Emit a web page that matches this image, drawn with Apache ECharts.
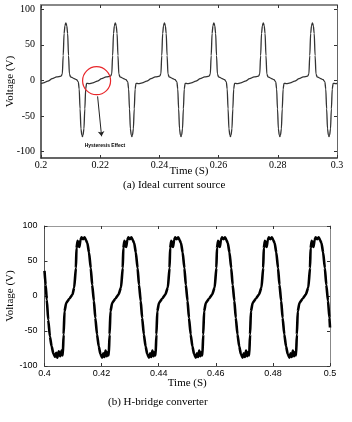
<!DOCTYPE html>
<html>
<head>
<meta charset="utf-8">
<script src="https://cdn.jsdelivr.net/npm/echarts@6/dist/echarts.min.js"></script>
<style>html,body{margin:0;padding:0;background:#fff;}#chart{width:352px;height:422px;}</style>
</head>
<body>
<div id="chart"></div>
<script>
// ---------- data ----------
const topXTicks = [0.2, 0.22, 0.24, 0.26, 0.28, 0.3];
const topYTicks = [-100, -50, 0, 50, 100];
const bottomXTicks = [0.4, 0.42, 0.44, 0.46, 0.48, 0.5];
const bottomYTicks = [-100, -50, 0, 50, 100];

// (a) Ideal current source: [time (s), voltage (V)]
const idealCurrentSource = [
[0.2000,-4.3],[0.2008,-3.5],[0.2023,-1],[0.2038,2.5],
[0.2053,5],[0.2068,6],[0.2072,9],[0.2075,35],[0.2078,66],[0.2081,77],[0.2084,81],[0.2087,77],[0.2090,66],[0.2093,35],[0.2096,9],[0.2100,5],[0.2110,3],[0.2120,1],[0.2126,-2],[0.2129,-12],[0.2132,-40],[0.2135,-68],[0.2138,-77],[0.2140,-79],[0.2142,-77],[0.2145,-68],[0.2148,-40],[0.2151,-12],[0.2154,-4],[0.2162,-4.5],[0.2175,-3.5],[0.2190,-1],[0.2205,2.5],
[0.2220,5],[0.2235,6],[0.2239,9],[0.2242,35],[0.2245,66],[0.2248,77],[0.2251,81],[0.2254,77],[0.2257,66],[0.2260,35],[0.2263,9],[0.2267,5],[0.2277,3],[0.2287,1],[0.2293,-2],[0.2296,-12],[0.2299,-40],[0.2302,-68],[0.2305,-77],[0.2307,-79],[0.2309,-77],[0.2312,-68],[0.2315,-40],[0.2318,-12],[0.2321,-4],[0.2329,-4.5],[0.2342,-3.5],[0.2357,-1],[0.2372,2.5],
[0.2386,5],[0.2401,6],[0.2405,9],[0.2408,35],[0.2411,66],[0.2414,77],[0.2417,81],[0.2420,77],[0.2423,66],[0.2426,35],[0.2429,9],[0.2433,5],[0.2443,3],[0.2453,1],[0.2459,-2],[0.2462,-12],[0.2465,-40],[0.2468,-68],[0.2471,-77],[0.2473,-79],[0.2475,-77],[0.2478,-68],[0.2481,-40],[0.2484,-12],[0.2487,-4],[0.2495,-4.5],[0.2508,-3.5],[0.2523,-1],[0.2538,2.5],
[0.2553,5],[0.2568,6],[0.2572,9],[0.2575,35],[0.2578,66],[0.2581,77],[0.2584,81],[0.2587,77],[0.2590,66],[0.2593,35],[0.2596,9],[0.2600,5],[0.2610,3],[0.2620,1],[0.2626,-2],[0.2629,-12],[0.2632,-40],[0.2635,-68],[0.2638,-77],[0.2640,-79],[0.2642,-77],[0.2645,-68],[0.2648,-40],[0.2651,-12],[0.2654,-4],[0.2662,-4.5],[0.2675,-3.5],[0.2690,-1],[0.2705,2.5],
[0.2720,5],[0.2735,6],[0.2739,9],[0.2742,35],[0.2745,66],[0.2748,77],[0.2751,81],[0.2754,77],[0.2757,66],[0.2760,35],[0.2763,9],[0.2767,5],[0.2777,3],[0.2787,1],[0.2793,-2],[0.2796,-12],[0.2799,-40],[0.2802,-68],[0.2805,-77],[0.2807,-79],[0.2809,-77],[0.2812,-68],[0.2815,-40],[0.2818,-12],[0.2821,-4],[0.2829,-4.5],[0.2842,-3.5],[0.2857,-1],[0.2872,2.5],
[0.2886,5],[0.2901,6],[0.2905,9],[0.2908,35],[0.2911,66],[0.2914,77],[0.2917,81],[0.2920,77],[0.2923,66],[0.2926,35],[0.2929,9],[0.2933,5],[0.2943,3],[0.2953,1],[0.2959,-2],[0.2962,-12],[0.2965,-40],[0.2968,-68],[0.2971,-77],[0.2973,-79],[0.2975,-77],[0.2978,-68],[0.2981,-40],[0.2984,-12],[0.2987,-4],[0.2995,-4.5],[0.3000,-4.3]
];

// (b) H-bridge converter: [time (s), voltage (V)]
const hBridgeConverter = [
[0.4000,36],[0.4004,16],[0.4008,-5],[0.4013,-34],[0.4019,-58],[0.4025,-72],[0.4031,-82],[0.4037,-87],[0.4041,-81],[0.4045,-88],[0.4050,-79],[0.4055,-86],[0.4060,-78],[0.4064,-85],[0.4067,-55],[0.4070,-22],[0.4076,-10],[0.4087,-4],[0.4098,2],[0.4104,12],
[0.4110,40],[0.4112,68],[0.4116,79],[0.4119,74],[0.4122,70],[0.4126,80],[0.4130,84],[0.4135,81],[0.4140,84],[0.4145,80],[0.4150,76],[0.4156,62],[0.4162,40],[0.4167,16],[0.4173,-7],[0.4178,-31],[0.4184,-55],[0.4190,-72],[0.4196,-83],[0.4202,-88],[0.4206,-82],[0.4210,-87],[0.4214,-78],[0.4218,-86],[0.4222,-80],[0.4225,-85],[0.4228,-55],[0.4231,-22],[0.4237,-10],[0.4248,-4],[0.4259,2],[0.4268,12],
[0.4274,40],[0.4276,68],[0.4280,79],[0.4283,74],[0.4286,70],[0.4290,80],[0.4294,84],[0.4299,81],[0.4304,84],[0.4309,80],[0.4314,76],[0.4320,62],[0.4326,40],[0.4331,16],[0.4337,-7],[0.4342,-31],[0.4348,-55],[0.4354,-72],[0.4360,-83],[0.4366,-88],[0.4370,-82],[0.4374,-87],[0.4378,-78],[0.4382,-86],[0.4386,-80],[0.4389,-85],[0.4392,-55],[0.4395,-22],[0.4401,-10],[0.4412,-4],[0.4423,2],[0.4432,12],
[0.4438,40],[0.4440,68],[0.4444,79],[0.4447,74],[0.4450,70],[0.4454,80],[0.4458,84],[0.4463,81],[0.4468,84],[0.4473,80],[0.4478,76],[0.4484,62],[0.4490,40],[0.4495,16],[0.4501,-7],[0.4506,-31],[0.4512,-55],[0.4518,-72],[0.4524,-83],[0.4530,-88],[0.4534,-82],[0.4538,-87],[0.4542,-78],[0.4546,-86],[0.4550,-80],[0.4553,-85],[0.4556,-55],[0.4559,-22],[0.4565,-10],[0.4576,-4],[0.4587,2],[0.4596,12],
[0.4602,40],[0.4604,68],[0.4608,79],[0.4611,74],[0.4614,70],[0.4618,80],[0.4622,84],[0.4627,81],[0.4632,84],[0.4637,80],[0.4642,76],[0.4648,62],[0.4654,40],[0.4659,16],[0.4665,-7],[0.4670,-31],[0.4676,-55],[0.4682,-72],[0.4688,-83],[0.4694,-88],[0.4698,-82],[0.4702,-87],[0.4706,-78],[0.4710,-86],[0.4714,-80],[0.4717,-85],[0.4720,-55],[0.4723,-22],[0.4729,-10],[0.4740,-4],[0.4751,2],[0.4760,12],
[0.4766,40],[0.4768,68],[0.4772,79],[0.4775,74],[0.4778,70],[0.4782,80],[0.4786,84],[0.4791,81],[0.4796,84],[0.4801,80],[0.4806,76],[0.4812,62],[0.4818,40],[0.4823,16],[0.4829,-7],[0.4834,-31],[0.4840,-55],[0.4846,-72],[0.4852,-83],[0.4858,-88],[0.4862,-82],[0.4866,-87],[0.4870,-78],[0.4874,-86],[0.4878,-80],[0.4881,-85],[0.4884,-55],[0.4887,-22],[0.4893,-10],[0.4904,-4],[0.4915,2],[0.4924,12],
[0.4930,40],[0.4932,68],[0.4936,79],[0.4939,74],[0.4942,70],[0.4946,80],[0.4950,84],[0.4955,81],[0.4960,84],[0.4965,80],[0.4970,76],[0.4976,62],[0.4982,40],[0.4987,16],[0.4993,-7],[0.4998,-31],[0.5000,-45]
];

// annotation: hysteresis circle centre, arrow start/end, label position (data coords)
const hysteresisCircle = [0.21878, -0.4];
const hysteresisArrow = [[0.21912, -22.4], [0.22047, -78.5]];
const hysteresisLabel = [0.2216, -91.5];
const hysteresisText = 'Hysteresis Effect';

// ---------- chart ----------
const chart = echarts.init(document.getElementById('chart'), null, {renderer: 'canvas'});
const serif = 'Liberation Serif';
const sans = 'Liberation Sans';
const fmt = v => String(+(+v).toFixed(2));

function frameX(gridIndex, min, max, ticks, bottomOpts, topColor, topWidth, labelFont, labelSize, labelMargin, name, nameGap, nameSize) {
  return [
    {
      gridIndex, type: 'value', min, max, position: 'bottom',
      axisLine: {show: true, onZero: false, lineStyle: {color: bottomOpts.color, width: bottomOpts.width}},
      axisTick: {show: true, inside: true, length: 3, customValues: ticks, lineStyle: {color: '#333', width: 1}},
      axisLabel: {show: true, customValues: ticks, formatter: fmt, fontFamily: labelFont, fontSize: labelSize, color: '#000', margin: labelMargin},
      splitLine: {show: false},
      name, nameLocation: 'middle', nameGap, nameMoveOverlap: false,
      nameTextStyle: {fontFamily: serif, fontSize: nameSize, color: '#000'}
    },
    {
      gridIndex, type: 'value', min, max, position: 'top',
      axisLine: {show: true, onZero: false, lineStyle: {color: topColor, width: topWidth}},
      axisTick: {show: true, inside: true, length: 3, customValues: ticks, lineStyle: {color: '#333', width: 1}},
      axisLabel: {show: false}, splitLine: {show: false}
    }
  ];
}
function frameY(gridIndex, min, max, ticks, leftOpts, rightColor, labelFont, labelSize, name, nameGap, nameSize, labelMargin) {
  return [
    {
      gridIndex, type: 'value', min, max, position: 'left',
      axisLine: {show: true, onZero: false, lineStyle: {color: leftOpts.color, width: leftOpts.width}},
      axisTick: {show: true, inside: true, length: 3, customValues: ticks, lineStyle: {color: '#333', width: 1}},
      axisLabel: {show: true, customValues: ticks, fontFamily: labelFont, fontSize: labelSize, color: '#000', margin: labelMargin},
      splitLine: {show: false},
      name, nameLocation: 'middle', nameGap, nameMoveOverlap: false,
      nameTextStyle: {fontFamily: serif, fontSize: nameSize, color: '#000'}
    },
    {
      gridIndex, type: 'value', min, max, position: 'right',
      axisLine: {show: true, onZero: false, lineStyle: {color: rightColor, width: 1}},
      axisTick: {show: true, inside: true, length: 3, customValues: ticks, lineStyle: {color: '#333', width: 1}},
      axisLabel: {show: false}, splitLine: {show: false}
    }
  ];
}

const option = {
  animation: false,
  backgroundColor: '#fff',
  grid: [
    {left: 41, right: 15, top: 5, height: 153, containLabel: false, outerBoundsMode: 'none'},
    {left: 44.5, right: 22, top: 226, height: 140, containLabel: false, outerBoundsMode: 'none'}
  ],
  xAxis: [
    ...frameX(0, 0.2, 0.3, topXTicks, {color: '#333', width: 1.5}, '#888', 2, serif, 10, 2, 'Time (S)', 8, 11),
    ...frameX(1, 0.4, 0.5, bottomXTicks, {color: '#555', width: 1}, '#999', 1, sans, 9, 3, 'Time (S)', 12, 11)
  ],
  yAxis: [
    ...frameY(0, -109, 106, topYTicks, {color: '#333', width: 1.5}, '#666', serif, 10, 'Voltage (V)', 25, 11, 6),
    ...frameY(1, -100, 100, bottomYTicks, {color: '#555', width: 1}, '#888', sans, 9, 'Voltage (V)', 29, 11, 7)
  ],
  series: [
    {
      type: 'line', xAxisIndex: 0, yAxisIndex: 0,
      data: idealCurrentSource, showSymbol: false, symbol: 'none',
      smooth: 0.3, smoothMonotone: 'x',
      lineStyle: {color: '#333', width: 1.3},
      markPoint: {
        silent: true,
        data: [
          {coord: hysteresisCircle, symbol: 'circle', symbolSize: 28,
           itemStyle: {color: 'rgba(0,0,0,0)', borderColor: '#e8262a', borderWidth: 1.2},
           label: {show: false}},
          {coord: hysteresisLabel, symbol: 'circle', symbolSize: 0,
           label: {show: true, position: 'inside', formatter: hysteresisText, fontFamily: sans, fontWeight: 'bold', fontSize: 5, color: '#000'}}
        ]
      },
      markLine: {
        silent: true, symbol: ['none', 'arrow'], symbolSize: 5,
        label: {show: false},
        lineStyle: {color: '#222', width: 1, type: 'solid'},
        data: [[{coord: hysteresisArrow[0]}, {coord: hysteresisArrow[1]}]]
      }
    },
    {
      type: 'line', xAxisIndex: 2, yAxisIndex: 2,
      data: hBridgeConverter, showSymbol: false, symbol: 'none',
      smooth: 0.2, smoothMonotone: 'x',
      lineStyle: {color: '#000', width: 2.6}
    }
  ],
  graphic: [
    {type: 'text', left: 123, top: 180, style: {text: '(a) Ideal current source', font: '11px "Liberation Serif"', fill: '#000'}},
    {type: 'text', left: 108, top: 397, style: {text: '(b) H-bridge converter', font: '11px "Liberation Serif"', fill: '#000'}}
  ]
};
chart.setOption(option);
</script>
</body>
</html>
